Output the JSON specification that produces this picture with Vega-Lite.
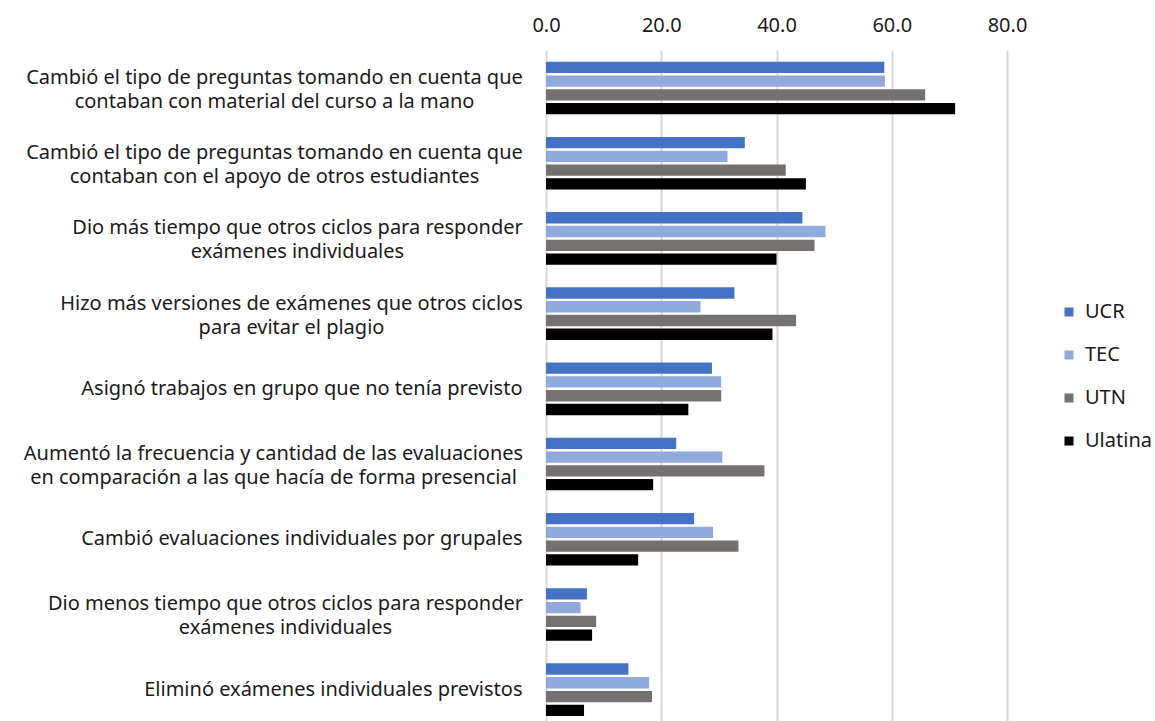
{
  "$schema": "https://vega.github.io/schema/vega-lite/v6.json",
  "width": 461,
  "height": 671,
  "autosize": "none",
  "padding": {"left": 546, "top": 50, "right": 148, "bottom": 0},
  "background": "white",
  "config": {"view": {"stroke": null}, "font": "Noto Sans"},
  "data": {"values": [
    {"item": "Cambió el tipo de preguntas tomando en cuenta que|contaban con material del curso a la mano", "inst": "UCR", "v": 58.7},
    {"item": "Cambió el tipo de preguntas tomando en cuenta que|contaban con material del curso a la mano", "inst": "TEC", "v": 58.8},
    {"item": "Cambió el tipo de preguntas tomando en cuenta que|contaban con material del curso a la mano", "inst": "UTN", "v": 65.8},
    {"item": "Cambió el tipo de preguntas tomando en cuenta que|contaban con material del curso a la mano", "inst": "Ulatina", "v": 71.0},
    {"item": "Cambió el tipo de preguntas tomando en cuenta que|contaban con el apoyo de otros estudiantes", "inst": "UCR", "v": 34.5},
    {"item": "Cambió el tipo de preguntas tomando en cuenta que|contaban con el apoyo de otros estudiantes", "inst": "TEC", "v": 31.5},
    {"item": "Cambió el tipo de preguntas tomando en cuenta que|contaban con el apoyo de otros estudiantes", "inst": "UTN", "v": 41.6},
    {"item": "Cambió el tipo de preguntas tomando en cuenta que|contaban con el apoyo de otros estudiantes", "inst": "Ulatina", "v": 45.1},
    {"item": "Dio más tiempo que otros ciclos para responder|exámenes individuales", "inst": "UCR", "v": 44.5},
    {"item": "Dio más tiempo que otros ciclos para responder|exámenes individuales", "inst": "TEC", "v": 48.5},
    {"item": "Dio más tiempo que otros ciclos para responder|exámenes individuales", "inst": "UTN", "v": 46.6},
    {"item": "Dio más tiempo que otros ciclos para responder|exámenes individuales", "inst": "Ulatina", "v": 40.0},
    {"item": "Hizo más versiones de exámenes que otros ciclos|para evitar el plagio", "inst": "UCR", "v": 32.7},
    {"item": "Hizo más versiones de exámenes que otros ciclos|para evitar el plagio", "inst": "TEC", "v": 26.8},
    {"item": "Hizo más versiones de exámenes que otros ciclos|para evitar el plagio", "inst": "UTN", "v": 43.4},
    {"item": "Hizo más versiones de exámenes que otros ciclos|para evitar el plagio", "inst": "Ulatina", "v": 39.3},
    {"item": "Asignó trabajos en grupo que no tenía previsto", "inst": "UCR", "v": 28.8},
    {"item": "Asignó trabajos en grupo que no tenía previsto", "inst": "TEC", "v": 30.4},
    {"item": "Asignó trabajos en grupo que no tenía previsto", "inst": "UTN", "v": 30.4},
    {"item": "Asignó trabajos en grupo que no tenía previsto", "inst": "Ulatina", "v": 24.7},
    {"item": "Aumentó la frecuencia y cantidad de las evaluaciones|en comparación a las que hacía de forma presencial", "inst": "UCR", "v": 22.6},
    {"item": "Aumentó la frecuencia y cantidad de las evaluaciones|en comparación a las que hacía de forma presencial", "inst": "TEC", "v": 30.6},
    {"item": "Aumentó la frecuencia y cantidad de las evaluaciones|en comparación a las que hacía de forma presencial", "inst": "UTN", "v": 37.9},
    {"item": "Aumentó la frecuencia y cantidad de las evaluaciones|en comparación a las que hacía de forma presencial", "inst": "Ulatina", "v": 18.6},
    {"item": "Cambió evaluaciones individuales por grupales", "inst": "UCR", "v": 25.7},
    {"item": "Cambió evaluaciones individuales por grupales", "inst": "TEC", "v": 29.0},
    {"item": "Cambió evaluaciones individuales por grupales", "inst": "UTN", "v": 33.4},
    {"item": "Cambió evaluaciones individuales por grupales", "inst": "Ulatina", "v": 16.0},
    {"item": "Dio menos tiempo que otros ciclos para responder|exámenes individuales", "inst": "UCR", "v": 7.1},
    {"item": "Dio menos tiempo que otros ciclos para responder|exámenes individuales", "inst": "TEC", "v": 6.0},
    {"item": "Dio menos tiempo que otros ciclos para responder|exámenes individuales", "inst": "UTN", "v": 8.7},
    {"item": "Dio menos tiempo que otros ciclos para responder|exámenes individuales", "inst": "Ulatina", "v": 8.0},
    {"item": "Eliminó exámenes individuales previstos", "inst": "UCR", "v": 14.3},
    {"item": "Eliminó exámenes individuales previstos", "inst": "TEC", "v": 17.9},
    {"item": "Eliminó exámenes individuales previstos", "inst": "UTN", "v": 18.4},
    {"item": "Eliminó exámenes individuales previstos", "inst": "Ulatina", "v": 6.6}
  ]},
  "mark": {"type": "bar"},
  "encoding": {
    "y": {
      "field": "item", "type": "nominal", "sort": null,
      "scale": {"paddingInner": 0.3, "paddingOuter": 0.111, "align": 0.7},
      "axis": {
        "title": null, "domain": false, "ticks": false, "grid": false,
        "labelExpr": "split(datum.label, '|')",
        "labelAlign": {"condition": {"test": "indexof(datum.value, '|') >= 0", "value": "center"}, "value": "right"},
        "labelPadding": {"condition": [
          {"test": "indexof(datum.value, 'material') >= 0", "value": 272},
          {"test": "indexof(datum.value, 'apoyo') >= 0", "value": 272},
          {"test": "indexof(datum.value, 'Dio más') >= 0", "value": 249},
          {"test": "indexof(datum.value, 'Hizo') >= 0", "value": 255},
          {"test": "indexof(datum.value, 'Aumentó') >= 0", "value": 273},
          {"test": "indexof(datum.value, 'Dio menos') >= 0", "value": 261}
        ], "value": 24},
        "labelLimit": 0,
        "labelOffset": {"condition": {"test": "indexof(datum.value, '|') >= 0", "value": -10}, "value": 0},
        "labelFontSize": 20, "labelColor": "#1a1a1a", "labelLineHeight": 24
      }
    },
    "yOffset": {"field": "inst", "type": "nominal", "sort": ["UCR", "TEC", "UTN", "Ulatina"], "scale": {"paddingInner": 0.177, "paddingOuter": 0}},
    "x": {
      "field": "v", "type": "quantitative",
      "scale": {"domain": [0, 80], "nice": false},
      "axis": {
        "orient": "top", "title": null, "format": ".1f", "values": [0, 20, 40, 60, 80],
        "domain": false, "ticks": false, "labelFlush": false, "labelPadding": 15, "labelFontSize": 20, "labelColor": "#1a1a1a",
        "gridColor": "#d9d9d9", "gridWidth": 2
      }
    },
    "color": {
      "field": "inst", "type": "nominal", "sort": ["UCR", "TEC", "UTN", "Ulatina"],
      "scale": {"domain": ["UCR", "TEC", "UTN", "Ulatina"], "range": ["#4472C4", "#8FAADC", "#767171", "#000000"]},
      "legend": {
        "title": null, "orient": "none", "legendX": 513, "legendY": 252,
        "symbolType": "square", "symbolSize": 81, "symbolStrokeWidth": 0,
        "labelFontSize": 20, "labelColor": "#1a1a1a", "rowPadding": 23, "labelOffset": 6
      }
    }
  }
}
